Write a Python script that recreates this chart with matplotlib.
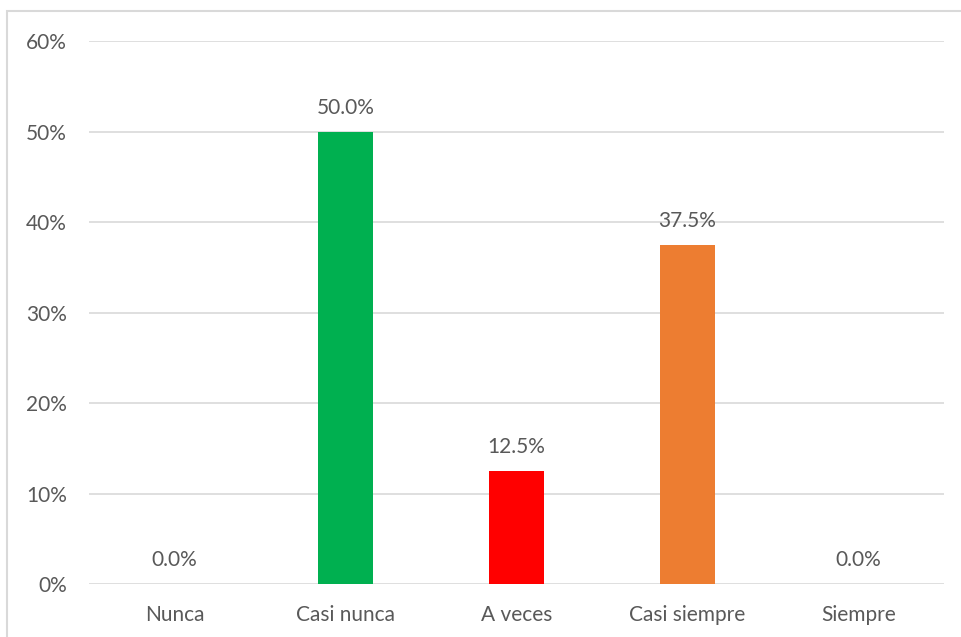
import matplotlib
matplotlib.use("Agg")
import matplotlib.pyplot as plt
from matplotlib.patches import Rectangle
from matplotlib.ticker import FuncFormatter

categories = ["Nunca", "Casi nunca", "A veces", "Casi siempre", "Siempre"]
values = [0.0, 50.0, 12.5, 37.5, 0.0]
colors = ["#4472C4", "#00B050", "#FF0000", "#ED7D31", "#A5A5A5"]

plt.rcParams['font.family'] = ['Lato', 'DejaVu Sans']
text_color = "#595959"

fig = plt.figure(figsize=(9.61, 6.37), dpi=100)
ax = fig.add_axes([0.0926, 0.0832, 0.8897, 0.8524])

# outer chart border (only top/left visible in the reference)
fig.patches.append(Rectangle((7 / 961, -0.1), 1.2, 1 - 11 / 637 + 0.1,
                             transform=fig.transFigure, fill=False,
                             edgecolor="#D9D9D9", linewidth=1.5))

x = range(len(categories))
ax.bar(x, values, width=0.32, color=colors, zorder=3)

for i, v in enumerate(values):
    ax.annotate("%.1f%%" % v, (i, v), xytext=(0, 10), textcoords="offset points",
                ha="center", va="bottom", fontsize=15, color=text_color)

ax.set_xlim(-0.5, len(categories) - 0.5)
ax.set_ylim(0, 60)
ax.set_yticks(range(0, 61, 10))
ax.yaxis.set_major_formatter(FuncFormatter(lambda v, p: "%d%%" % v))
ax.set_xticks(list(x))
ax.set_xticklabels(categories)
ax.grid(axis="y", color="#D9D9D9", linewidth=1.2, zorder=0)
for s in ax.spines.values():
    s.set_visible(False)
ax.tick_params(length=0, labelsize=15, labelcolor=text_color)
ax.tick_params(axis="y", pad=16)
ax.tick_params(axis="x", pad=15)

fig.savefig("out.png", dpi=100)
